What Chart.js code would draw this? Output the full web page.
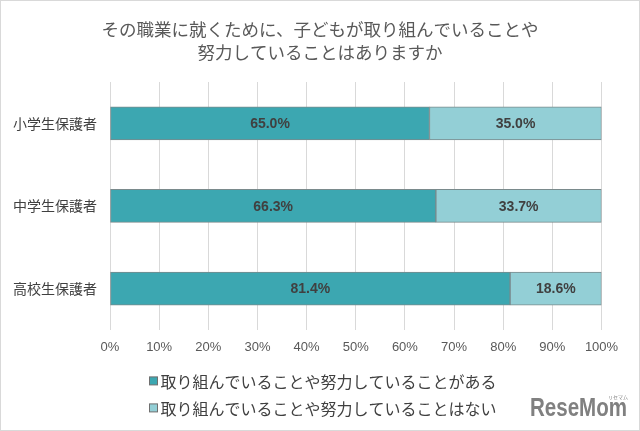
<!DOCTYPE html>
<html>
<head>
<meta charset="utf-8">
<script src="https://cdn.jsdelivr.net/npm/chart.js@4/dist/chart.umd.min.js"></script>
<style>
  body { margin: 0; background: #fff; }
  .wrap { width: 640px; height: 431px; box-sizing: border-box; border: 1px solid #d9d9d9; }
  canvas { display: block; }
</style>
</head>
<body>
<div class="wrap"><canvas id="chart" width="638" height="429"></canvas></div>
<script>
const FONT = "'Liberation Sans', 'Noto Sans CJK JP', sans-serif"
const JP = "'Noto Sans CJK JP', sans-serif"

// data
const titleLines = ['その職業に就くために、子どもが取り組んでいることや', '努力していることはありますか']
const categories = ['小学生保護者', '中学生保護者', '高校生保護者']
const seriesLabels = ['取り組んでいることや努力していることがある', '取り組んでいることや努力していることはない']
const yesValues = [65.0, 66.3, 81.4]
const noValues = [35.0, 33.7, 18.6]
const seriesColors = ['#3ca7b1', '#93cfd6']

// title centred on the whole canvas
const pageTitle = {
    id: 'pageTitle',
    afterDraw(chart) {
        const ctx = chart.ctx
        ctx.save()
        ctx.font = '17.5px ' + JP
        ctx.fillStyle = '#595959'
        ctx.textAlign = 'center'
        ctx.textBaseline = 'middle'
        titleLines.forEach((t, i) => ctx.fillText(t, chart.width / 2, 28.5 + i * 23))
        ctx.restore()
    }
}

// value labels inside bars
const barLabels = {
    id: 'barLabels',
    afterDatasetsDraw(chart) {
        const ctx = chart.ctx
        ctx.save()
        ctx.font = 'bold 14px ' + FONT
        ctx.fillStyle = '#404040'
        ctx.textAlign = 'center'
        ctx.textBaseline = 'middle'
        chart.data.datasets.forEach((ds, i) => {
            chart.getDatasetMeta(i).data.forEach((el, j) => {
                ctx.fillText(ds.data[j].toFixed(1) + '%', (el.x + el.base) / 2, el.y + 1)
            })
        })
        ctx.restore()
    }
}

// legend stacked vertically under the axis + logo
const sideLegend = {
    id: 'sideLegend',
    afterDraw(chart) {
        const ctx = chart.ctx
        const area = chart.chartArea
        const x = area.left + 39.5
        ctx.save()
        chart.data.datasets.forEach((ds, i) => {
            const y = area.bottom + 51 + i * 27
            ctx.fillStyle = ds.backgroundColor
            ctx.strokeStyle = '#6f6f6f'
            ctx.lineWidth = 1
            ctx.fillRect(x, y - 4, 8, 8)
            ctx.strokeRect(x, y - 4, 8, 8)
            ctx.font = '16px ' + JP
            ctx.fillStyle = '#404040'
            ctx.textBaseline = 'middle'
            ctx.textAlign = 'left'
            ctx.fillText(ds.label, x + 11, y + 1)
        })
        // logo, squeezed to its width
        ctx.fillStyle = '#808080'
        ctx.font = "bold 26px 'Liberation Sans', sans-serif"
        ctx.textBaseline = 'middle'
        const w = ctx.measureText('ReseMom').width
        ctx.translate(529, area.bottom + 79)
        ctx.scale(97 / w, 1)
        ctx.fillText('ReseMom', 0, 0)
        ctx.restore()
        ctx.save()
        ctx.fillStyle = '#808080'
        ctx.font = '5px ' + JP
        ctx.fillText('リセマム', 607, area.bottom + 69)
        ctx.restore()
    }
}

new Chart(document.getElementById('chart'), {
    type: 'bar',
    data: {
        labels: categories,
        datasets: [
            { label: seriesLabels[0], data: yesValues, backgroundColor: seriesColors[0] },
            { label: seriesLabels[1], data: noValues, backgroundColor: seriesColors[1] }
        ].map(d => ({ ...d, borderColor: '#7a8a8c', borderWidth: 1, borderSkipped: false, barThickness: 33 }))
    },
    options: {
        indexAxis: 'y',
        responsive: false,
        animation: false,
        layout: { padding: { left: 12, right: 37.5, top: 81, bottom: 64.5 } },
        plugins: {
            legend: { display: false },
            tooltip: { enabled: false },
            title: { display: false }
        },
        scales: {
            x: {
                stacked: true,
                min: 0,
                max: 100,
                ticks: {
                    stepSize: 10,
                    padding: 10,
                    color: '#595959',
                    font: { family: FONT, size: 13 },
                    callback: v => v + '%'
                },
                grid: { color: '#d9d9d9', drawTicks: false },
                border: { display: false }
            },
            y: {
                stacked: true,
                afterFit: s => { s.width = 97 },
                ticks: {
                    padding: 13,
                    color: '#404040',
                    font: { family: JP, size: 14 }
                },
                grid: { display: false, drawTicks: false },
                border: { display: false }
            }
        }
    },
    plugins: [pageTitle, barLabels, sideLegend]
})
</script>
</body>
</html>
